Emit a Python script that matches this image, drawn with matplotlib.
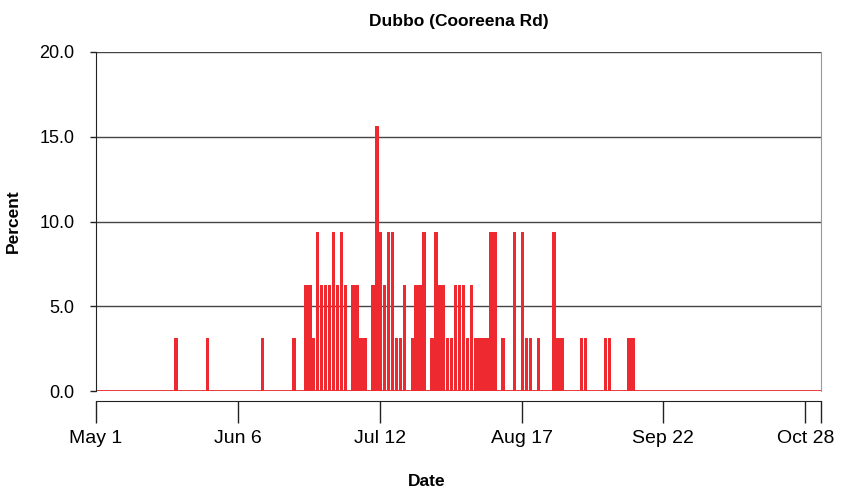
import matplotlib.pyplot as plt
import numpy as np

plt.rcParams['font.family'] = ['Liberation Sans', 'DejaVu Sans']

# days counted from May 1, 184 days (May 1 - Oct 31)
n_days = 184
event_days = [20, 28, 42, 50, 53, 54, 55, 56, 57, 58, 59, 60, 61, 62, 63,
              65, 66, 67, 68, 70, 71, 72, 73, 74, 75, 76, 77, 78, 80, 81,
              82, 83, 85, 86, 87, 88, 89, 90, 91, 92, 93, 94, 95, 96, 97,
              98, 99, 100, 101, 103, 106, 108, 109, 110, 112, 116, 117, 118,
              123, 124, 129, 130, 135, 136]
event_pct = [3.125, 3.125, 3.125, 3.125, 6.25, 6.25, 3.125, 9.375, 6.25, 6.25,
             6.25, 9.375, 6.25, 9.375, 6.25,
             6.25, 6.25, 3.125, 3.125, 6.25, 15.625, 9.375, 6.25, 9.375, 9.375,
             3.125, 3.125, 6.25, 3.125, 6.25,
             6.25, 9.375, 3.125, 9.375, 6.25, 6.25, 3.125, 3.125, 6.25, 6.25,
             6.25, 3.125, 6.25, 3.125, 3.125,
             3.125, 3.125, 9.375, 9.375, 3.125, 9.375, 9.375, 3.125, 3.125,
             3.125, 9.375, 3.125, 3.125,
             3.125, 3.125, 3.125, 3.125, 3.125, 3.125]
tick_days = [0, 36, 72, 108, 144, 180]
tick_labels = ['May 1', 'Jun 6', 'Jul 12', 'Aug 17', 'Sep 22', 'Oct 28']
y_ticks = [0, 5, 10, 15, 20]

days = np.arange(n_days)
pct = np.zeros(n_days)
pct[event_days] = event_pct

red = '#ee2a30'

fig = plt.figure(figsize=(8.42, 4.91), dpi=100)
ax = fig.add_axes([96 / 842, 1 - 391 / 491, 725 / 842, 339 / 491])

for y in y_ticks:
    ax.axhline(y, color='#444444', lw=1.0, zorder=1)

ax.bar(days - 0.18, pct, width=0.88, align='edge', color=red, lw=0, zorder=3)
ax.axhline(0, color=red, lw=2.0, zorder=2)

ax.set_xlim(0, n_days)
ax.set_ylim(0, 20)

ax.spines['top'].set_visible(False)
ax.spines['right'].set_color('#999999')
ax.spines['left'].set_color('#222222')
ax.spines['bottom'].set_position(('outward', 7.2))
ax.spines['bottom'].set_color('#222222')

ax.set_yticks(y_ticks)
ax.set_yticklabels([f'{v:.1f}' for v in y_ticks])
ax.tick_params(axis='y', length=4.5, width=1, pad=11, labelsize=13, color='#222222')

ax.set_xticks(tick_days + [n_days])
ax.set_xticklabels(tick_labels + [''])
ax.tick_params(axis='x', length=16, width=1, pad=5, labelsize=14, color='#222222')

ax.set_title('Dubbo (Cooreena Rd)', fontsize=12.5, fontweight='bold', pad=19)
ax.set_ylabel('Percent', fontsize=12.5, fontweight='bold')
ax.yaxis.set_label_coords(-0.104, 0.5)
ax.set_xlabel('Date', fontsize=12.5, fontweight='bold')
ax.xaxis.set_label_coords(0.4566, -0.245)

fig.savefig('out.png', dpi=100)
